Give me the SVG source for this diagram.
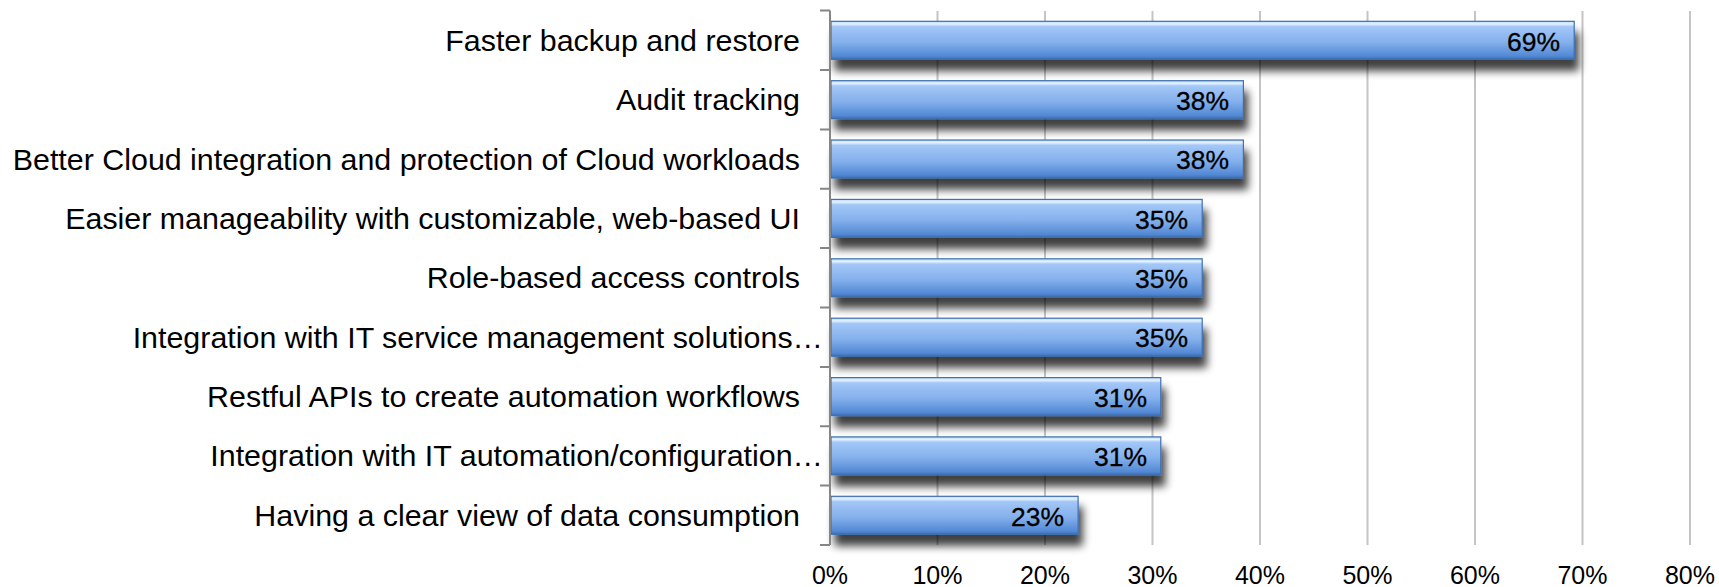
<svg xmlns="http://www.w3.org/2000/svg" width="1719" height="587" viewBox="0 0 1719 587">
<style>
.lbl{font-family:"Liberation Sans",Arial,sans-serif;font-size:30.4px;fill:#000;text-anchor:end}
.val{font-family:"Liberation Sans",Arial,sans-serif;font-size:26.5px;fill:#000;text-anchor:end;stroke:#000;stroke-width:0.3}
.ax{font-family:"Liberation Sans",Arial,sans-serif;font-size:25px;fill:#000;text-anchor:middle}
.grid{stroke:#c4c4c4;stroke-width:2}
.tick{stroke:#868686;stroke-width:2;fill:none}
.bar{fill:url(#bg);stroke:#3f6fae;stroke-width:1.2;filter:url(#sh)}
</style>
<defs>
<linearGradient id="bg" x1="0" y1="0" x2="0" y2="1">
<stop offset="0" stop-color="#b9d7fb"/>
<stop offset="0.07" stop-color="#e4f3ff"/>
<stop offset="0.14" stop-color="#a3c7f7"/>
<stop offset="0.55" stop-color="#84b0ec"/>
<stop offset="0.92" stop-color="#5288d4"/>
<stop offset="1" stop-color="#3e6db0"/>
</linearGradient>
<filter id="sh" x="-5%" y="-30%" width="115%" height="200%">
<feGaussianBlur in="SourceAlpha" stdDeviation="4"/>
<feOffset dx="4" dy="11" result="b"/>
<feComponentTransfer><feFuncA type="linear" slope="0.75"/></feComponentTransfer>
<feMerge><feMergeNode/><feMergeNode in="SourceGraphic"/></feMerge>
</filter>
</defs>
<rect width="1719" height="587" fill="#fff"/>
<g id="gridlines">
<line class="grid" x1="937.5" y1="11" x2="937.5" y2="545"/>
<line class="grid" x1="1045" y1="11" x2="1045" y2="545"/>
<line class="grid" x1="1152.5" y1="11" x2="1152.5" y2="545"/>
<line class="grid" x1="1260" y1="11" x2="1260" y2="545"/>
<line class="grid" x1="1367.5" y1="11" x2="1367.5" y2="545"/>
<line class="grid" x1="1475" y1="11" x2="1475" y2="545"/>
<line class="grid" x1="1582.5" y1="11" x2="1582.5" y2="545"/>
<line class="grid" x1="1690" y1="11" x2="1690" y2="545"/>
</g>
<g id="bars">
<rect class="bar" x="831" y="21.3" width="743.2" height="38"/>
<rect class="bar" x="831" y="80.7" width="412.4" height="38"/>
<rect class="bar" x="831" y="140" width="412.4" height="38"/>
<rect class="bar" x="831" y="199.4" width="371.2" height="38"/>
<rect class="bar" x="831" y="258.8" width="371.2" height="38"/>
<rect class="bar" x="831" y="318.2" width="371.2" height="38"/>
<rect class="bar" x="831" y="377.6" width="329.8" height="38"/>
<rect class="bar" x="831" y="436.9" width="329.8" height="38"/>
<rect class="bar" x="831" y="496.3" width="247.1" height="38"/>
</g>
<g id="axis">
<line class="tick" x1="830" y1="10.6" x2="830" y2="545"/>
<path class="tick" d="M820 10.6H830M820 70H830M820 129.4H830M820 188.7H830M820 248.1H830M820 307.5H830M820 366.9H830M820 426.2H830M820 485.6H830M820 545H830"/>
</g>
<g id="labels">
<text class="lbl" x="800" y="50.8">Faster backup and restore</text>
<text class="lbl" x="800" y="110.2">Audit tracking</text>
<text class="lbl" x="800" y="169.5">Better Cloud integration and protection of Cloud workloads</text>
<text class="lbl" x="800" y="228.9">Easier manageability with customizable, web-based UI</text>
<text class="lbl" x="800" y="288.3">Role-based access controls</text>
<text class="lbl" x="823" y="347.7">Integration with IT service management solutions…</text>
<text class="lbl" x="800" y="407.1">Restful APIs to create automation workflows</text>
<text class="lbl" x="823" y="466.4">Integration with IT automation/configuration…</text>
<text class="lbl" x="800" y="525.8">Having a clear view of data consumption</text>
</g>
<g id="values">
<text class="val" x="1560" y="50.5">69%</text>
<text class="val" x="1229" y="109.9">38%</text>
<text class="val" x="1229" y="169.2">38%</text>
<text class="val" x="1188" y="228.6">35%</text>
<text class="val" x="1188" y="288">35%</text>
<text class="val" x="1188" y="347.4">35%</text>
<text class="val" x="1147" y="406.8">31%</text>
<text class="val" x="1147" y="466.1">31%</text>
<text class="val" x="1064" y="525.5">23%</text>
</g>
<g id="xaxis-labels">
<text class="ax" x="830" y="584">0%</text>
<text class="ax" x="937.5" y="584">10%</text>
<text class="ax" x="1045" y="584">20%</text>
<text class="ax" x="1152.5" y="584">30%</text>
<text class="ax" x="1260" y="584">40%</text>
<text class="ax" x="1367.5" y="584">50%</text>
<text class="ax" x="1475" y="584">60%</text>
<text class="ax" x="1582.5" y="584">70%</text>
<text class="ax" x="1690" y="584">80%</text>
</g>
</svg>
